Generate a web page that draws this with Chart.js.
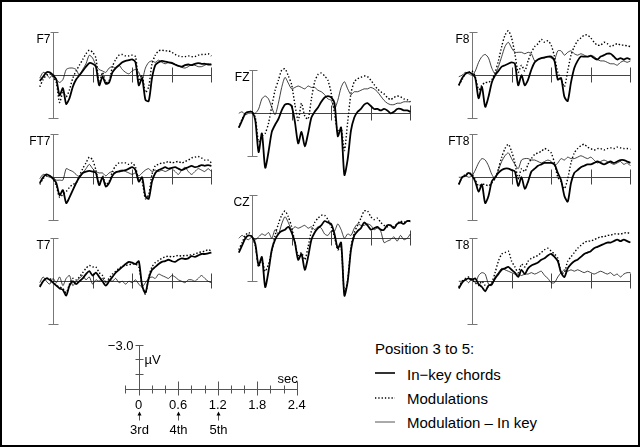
<!DOCTYPE html>
<html>
<head>
<meta charset="utf-8">
<script src="https://cdn.jsdelivr.net/npm/chart.js@4.4.1/dist/chart.umd.min.js"></script>
<style>
  html, body { margin: 0; padding: 0; background: #fff; }
  #fig { position: relative; width: 640px; height: 447px; overflow: hidden;
         font-family: "Liberation Sans", Arial, Helvetica, sans-serif; color: #000; }
  #frame { position: absolute; left: 0; top: 0; width: 636px; height: 443px;
           border: 2px solid #000; }
  canvas { position: absolute; }
  .txt { position: absolute; white-space: nowrap; font-size: 15px; line-height: 17px; }
  .sample { position: absolute; }
</style>
</head>
<body>
<div id="fig">
  <div id="frame"></div>
  <div class="txt" style="left:375px;top:340px">Position 3 to 5:</div>
  <svg class="sample" style="left:373px;top:366px" width="26" height="60">
    <line x1="2" y1="7" x2="22" y2="7" stroke="#000" stroke-width="1.6"/>
    <line x1="2" y1="32" x2="22" y2="32" stroke="#000" stroke-width="1.3" stroke-dasharray="1.3 2"/>
    <line x1="2" y1="56" x2="22" y2="56" stroke="#555" stroke-width="1"/>
  </svg>
  <div class="txt" id="leg0" style="left:407px;top:366px"></div>
  <div class="txt" id="leg1" style="left:407px;top:390px"></div>
  <div class="txt" id="leg2" style="left:407px;top:414px"></div>
</div>
<script>
// time in seconds (0 = onset of 3rd chord), amplitudes in microvolts (negative plotted up)
const times = [
  -0.2, -0.15, -0.1, -0.05, 0, 0.05, 0.1, 0.15, 0.2, 0.25,
  0.3, 0.35, 0.4, 0.45, 0.5, 0.55, 0.6, 0.65, 0.7, 0.75,
  0.8, 0.85, 0.9, 0.95, 1.0, 1.05, 1.1, 1.15, 1.2, 1.25,
  1.3, 1.35, 1.4, 1.45, 1.5, 1.55, 1.6, 1.65, 1.7, 1.75,
  1.8, 1.85, 1.9, 1.95, 2.0, 2.05, 2.1, 2.15, 2.2, 2.25,
  2.3, 2.35, 2.4
];

const f7InKey = [
  0.4, 0.1, -0.2, -0.2, 0.0, 0.3, 1.4, 0.9, 2.0, 1.6,
  0.8, 0.3, 0.0, -0.3, -0.6, -0.85, -0.8, -0.6, 0.7, 0.1,
  0.6, 0.5, -0.2, -0.5, -0.7, -0.9, -1.0, -1.05, -1.1, -0.9,
  0.7, 0.2, 1.7, 1.8, 0.2, -0.7, -0.9, -1.0, -0.95, -0.9,
  -0.85, -0.75, -0.65, -0.6, -0.7, -0.75, -0.7, -0.8, -0.85, -0.8,
  -0.8, -0.75, -0.75
];
const f7Mod = [
  0.8, 0.3, 0.0, -0.1, 0.1, 0.5, 1.9, 1.2, 1.5, 1.0,
  0.2, -0.3, -0.7, -1.1, -1.5, -1.75, -1.6, -1.2, 0.6, -0.2,
  0.5, 0.4, -0.6, -1.1, -1.4, -1.45, -1.35, -1.35, -1.4, -1.3,
  0.4, 0.0, 1.2, 0.8, -0.8, -1.4, -1.7, -1.75, -1.7, -1.7,
  -1.6, -1.45, -1.35, -1.3, -1.3, -1.35, -1.3, -1.3, -1.4, -1.45,
  -1.45, -1.5, -1.35
];
const f7Diff = [
  0.2, -0.2, -0.1, 0.2, -0.1, 0.3, 0.5, 0.3, -0.4, -0.5,
  -0.5, -0.4, 0.0, -0.4, -0.8, -1.4, -1.2, -0.7, -0.4, -0.3,
  -0.2, -0.5, -0.6, -0.5, -0.7, -0.4, -0.2, -0.1, -0.3, -0.4,
  -0.2, 0.3, -0.5, -0.9, -1.0, -0.9, -1.05, -0.9, -0.8, -0.9,
  -0.9, -0.75, -0.65, -0.55, -0.5, -0.6, -0.75, -0.7, -0.6, -0.6,
  -0.7, -0.8, -0.75
];

const ft7InKey = [
  0.4, 0.0, -0.2, -0.1, 0.1, 0.4, 1.25, 0.9, 1.8, 1.4,
  0.9, 0.4, 0.0, -0.3, -0.4, -0.45, -0.4, -0.3, 0.55, 0.0,
  0.65, 0.4, -0.1, -0.35, -0.4, -0.45, -0.5, -0.6, -0.7, -0.5,
  0.3, 0.0, 1.3, 1.5, 0.3, -0.3, -0.5, -0.6, -0.7, -0.6,
  -0.65, -0.7, -0.6, -0.5, -0.6, -0.7, -0.8, -0.7, -0.75, -0.85,
  -0.8, -0.85, -0.8
];
const ft7Mod = [
  0.5, 0.1, -0.1, -0.1, 0.1, 0.6, 1.4, 1.2, 1.0, 0.7,
  0.5, 0.4, -0.1, -0.6, -1.0, -1.4, -1.2, -0.5, 0.5, -0.1,
  0.5, 0.3, -0.4, -0.8, -1.0, -1.0, -1.0, -0.9, -1.0, -0.7,
  0.2, 0.3, 1.5, 1.2, -0.2, -0.8, -0.9, -1.0, -1.0, -1.1,
  -1.0, -1.05, -1.1, -1.0, -1.1, -1.2, -1.35, -1.4, -1.45, -1.35,
  -1.2, -1.2, -1.0
];
const ft7Diff = [
  0.1, -0.2, -0.1, 0.0, 0.0, 0.2, 0.2, 0.2, -0.6, -0.5,
  -0.4, -0.2, 0.0, -0.3, -0.6, -0.9, -0.6, -0.4, -0.3, -0.3,
  -0.1, -0.3, -0.4, -0.3, -0.45, -0.5, -0.4, -0.3, -0.2, -0.3,
  -0.1, -0.3, -0.5, -0.6, -0.4, -0.5, -0.4, -0.5, -0.4, -0.5,
  -0.6, -0.4, -0.2, -0.5, -0.7, -0.4, -0.2, -0.4, -0.6, -0.5,
  -0.4, -0.6, -0.4
];

const t7InKey = [
  0.4, 0.0, -0.2, -0.1, 0.1, 0.3, 0.5, 0.6, 1.0, 0.3,
  0.0, 0.2, 0.0, -0.2, -0.5, -0.7, -0.4, -0.6, -0.3, 0.0,
  0.3, 0.0, -0.3, -0.6, -0.8, -1.0, -1.2, -1.35, -1.3, -1.2,
  -1.4, 0.3, 0.8, -0.2, -0.8, -1.0, -1.2, -1.35, -1.4, -1.5,
  -1.4, -1.35, -1.5, -1.6, -1.55, -1.6, -1.75, -1.7, -1.8, -1.9,
  -1.9, -1.95, -2.0
];
const t7Mod = [
  0.3, 0.0, -0.2, -0.2, 0.0, 0.3, 0.4, 0.5, 0.8, 0.2,
  -0.2, -0.1, -0.3, -0.6, -0.9, -1.1, -1.0, -1.0, -0.6, -0.4,
  0.0, -0.2, -0.5, -0.7, -0.9, -1.05, -1.1, -1.15, -1.2, -1.2,
  -1.0, 0.3, 0.9, -0.3, -1.0, -1.3, -1.45, -1.6, -1.7, -1.75,
  -1.7, -1.75, -1.8, -1.75, -1.8, -1.8, -1.85, -1.9, -2.0, -2.05,
  -2.1, -2.2, -2.1
];
const t7Diff = [
  0.1, -0.3, 0.0, 0.2, -0.2, 0.1, -0.3, 0.3, -0.2, -0.4,
  0.3, 0.0, -0.2, -0.4, -0.1, -0.3, 0.2, -0.1, 0.0, -0.2,
  0.1, -0.1, 0.0, -0.2, 0.1, 0.0, 0.2, 0.0, 0.1, -0.1,
  0.2, 0.4, 0.1, -0.2, -0.3, -0.2, -0.5, -0.4, -0.3, -0.2,
  -0.4, -0.3, -0.1, 0.0, 0.1, -0.1, -0.1, 0.0, -0.2, -0.4,
  -0.2, 0.0, 0.1
];

const fzInKey = [
  1.0, 0.5, 0.0, -0.1, -0.1, 0.5, 2.7, 1.4, 3.8, 2.7,
  1.3, 0.8, 0.4, -0.2, -0.6, -0.65, -0.5, 0.6, 2.1, 1.3,
  2.3, 1.4, 0.3, -0.1, -0.4, -0.8, -1.1, -1.2, -1.1, -0.7,
  1.6, 1.0, 4.3, 3.2, 1.2, 0.3, -0.1, -0.3, -0.6, -0.7,
  -0.5, -0.3, -0.3, -0.2, -0.3, -0.2, 0.0, -0.1, -0.3, -0.3,
  -0.2, -0.2, -0.1
];
const fzMod = [
  1.0, 0.4, 0.0, -0.1, -0.1, 0.3, 2.0, 1.6, 1.4, 0.7,
  -0.5, -1.6, -2.3, -3.0, -3.1, -2.6, -2.0, -0.6, 0.5, -0.7,
  0.2, 0.4, -1.0, -2.2, -2.7, -2.8, -2.6, -2.3, -1.4, 0.0,
  1.3, 1.0, 2.6, 0.6, -1.4, -2.2, -2.4, -2.5, -2.6, -2.55,
  -2.3, -2.0, -1.7, -1.5, -1.35, -1.1, -0.95, -1.1, -1.2, -1.15,
  -1.0, -0.95, -0.8
];
const fzDiff = [
  0.0, -0.1, 0.1, 0.0, 0.0, 0.0, -0.3, -1.0, -1.2, -1.0,
  -0.4, 0.1, -0.7, -1.8, -2.5, -2.1, -1.7, -1.8, -1.9, -1.8,
  -1.7, -1.9, -1.8, -1.8, -1.6, -1.5, -1.3, -1.0, -0.9, -0.3,
  -0.9, -1.8, -2.2, -1.7, -1.3, -1.5, -1.5, -1.6, -1.7, -1.7,
  -1.8, -1.7, -1.5, -1.2, -0.9, -0.7, -0.6, -0.6, -0.7, -0.7,
  -0.8, -0.8, -0.8
];

const czInKey = [
  1.0, 0.5, 0.0, -0.2, -0.1, 0.4, 1.9, 1.3, 3.4, 2.3,
  0.8, 0.1, -0.3, -0.5, -0.6, -0.8, -0.4, 0.3, 1.5, 1.1,
  2.2, 1.3, 0.1, -0.4, -0.7, -0.9, -1.2, -1.1, -1.0, -0.3,
  0.7, 0.3, 4.0, 3.0, 0.8, -0.2, -0.5, -0.7, -1.1, -0.9,
  -0.6, -0.7, -0.8, -0.6, -0.6, -0.9, -0.9, -0.7, -1.0, -1.1,
  -1.0, -1.2, -1.2
];
const czMod = [
  0.8, 0.3, -0.2, -0.4, -0.1, 0.5, 2.0, 1.5, 2.3, 1.8,
  0.9, -0.2, -1.0, -1.6, -1.9, -1.5, -0.8, 0.3, 1.2, 1.0,
  1.5, 0.6, -0.5, -1.1, -1.4, -1.6, -1.6, -1.3, -0.8, -0.1,
  0.8, 0.6, 3.8, 2.9, 0.6, -0.4, -0.9, -1.4, -1.9, -1.9,
  -1.5, -1.3, -1.4, -1.1, -0.9, -0.8, -0.9, -0.8, -1.0, -1.2,
  -1.1, -1.2, -1.1
];
const czDiff = [
  0.0, -0.2, 0.0, 0.1, -0.1, 0.1, -0.1, -0.3, -0.2, -0.4,
  0.0, -0.6, -0.3, -1.0, -1.5, -1.1, -0.6, -0.8, -0.7, -0.8,
  -0.9, -0.7, -0.8, -0.6, -0.8, -0.7, -0.3, -0.2, -0.5, -0.5,
  -1.0, -0.6, 0.0, -0.3, -0.2, -0.7, -1.0, -0.9, -0.9, -1.0,
  -0.9, -0.6, -0.7, -0.5, 0.3, 0.2, 0.1, -0.1, 0.2, -0.2,
  0.1, 0.0, -0.3
];

const f8InKey = [
  0.7, 0.2, -0.1, -0.2, -0.1, 0.2, 1.6, 0.8, 2.2, 1.5,
  0.5, 0.0, -0.3, -0.6, -0.7, -0.8, -0.9, -0.8, 0.7, 0.0,
  0.7, 0.3, -0.4, -0.9, -1.1, -1.2, -1.25, -1.3, -1.3, -1.0,
  0.3, 0.2, 1.5, 1.8, 0.5, -0.5, -1.0, -1.3, -1.3, -1.3,
  -1.35, -1.2, -1.1, -1.3, -1.4, -1.5, -1.5, -1.3, -1.1, -1.2,
  -1.1, -1.2, -1.1
];
const f8Mod = [
  0.7, 0.3, -0.1, -0.2, -0.3, 0.1, 1.0, 0.7, 0.5, 0.5,
  0.3, -0.2, -1.0, -2.0, -2.8, -3.1, -2.6, -1.5, -0.2, -0.7,
  -0.3, -1.0, -1.6, -2.0, -2.2, -2.5, -2.3, -2.4, -2.1, -1.3,
  -0.2, 0.3, 0.8, -0.3, -1.4, -2.0, -2.4, -2.6, -2.8, -2.8,
  -2.6, -2.3, -2.1, -2.1, -2.3, -2.2, -2.0, -2.1, -2.2, -2.1,
  -2.1, -2.05, -2.0
];
const f8Diff = [
  0.1, 0.0, -0.2, -0.1, 0.0, -0.3, -0.9, -1.3, -1.45, -1.2,
  -0.5, -0.1, -0.6, -1.3, -2.0, -2.3, -1.9, -1.6, -1.6, -1.6,
  -1.5, -1.6, -1.5, -1.0, -1.1, -1.2, -1.2, -1.3, -1.2, -1.1,
  -1.7, -1.7, -1.4, -1.6, -1.7, -1.5, -1.4, -1.5, -1.4, -1.3,
  -1.4, -1.3, -1.1, -1.0, -1.0, -0.9, -0.8, -0.8, -0.7, -0.9,
  -1.0, -0.9, -1.0
];

const ft8InKey = [
  0.5, 0.0, -0.1, -0.3, -0.1, 0.3, 1.0, 0.5, 1.8, 1.3,
  0.3, 0.0, -0.3, -0.5, -0.6, -0.6, -0.5, -0.4, 0.6, 0.0,
  0.8, 0.3, -0.4, -0.6, -0.8, -0.9, -1.0, -1.0, -1.0, -0.9,
  -0.3, 0.2, 1.3, 1.7, 0.4, -0.3, -0.5, -0.7, -0.8, -0.9,
  -0.9, -1.0, -1.1, -1.0, -0.9, -1.0, -1.1, -1.0, -1.1, -1.2,
  -1.2, -1.1, -1.0
];
const ft8Mod = [
  0.5, 0.0, -0.2, -0.3, -0.2, 0.2, 0.6, 0.5, 0.5, 0.6,
  0.4, 0.1, -0.6, -1.4, -2.0, -2.3, -1.8, -1.0, 0.1, -0.6,
  -0.4, -0.9, -1.3, -1.6, -1.7, -1.8, -2.0, -1.9, -1.7, -1.0,
  0.0, 0.3, 0.8, 0.1, -1.0, -1.7, -2.0, -2.2, -2.3, -2.1,
  -2.0, -1.9, -2.0, -2.0, -1.9, -2.0, -2.05, -2.0, -2.1, -2.05,
  -2.0, -2.0, -1.95
];
const ft8Diff = [
  0.0, 0.0, -0.1, 0.0, -0.1, -0.5, -1.0, -1.3, -1.2, -0.8,
  -0.2, 0.1, -0.5, -1.1, -1.5, -1.7, -1.3, -0.9, -0.6, -1.2,
  -1.3, -1.3, -1.2, -1.2, -1.1, -1.0, -1.1, -1.2, -1.1, -0.8,
  -1.0, -1.3, -1.2, -1.4, -1.3, -1.3, -1.4, -1.5, -1.4, -1.3,
  -1.4, -1.2, -1.0, -1.1, -1.2, -1.1, -1.0, -0.9, -1.0, -1.1,
  -0.9, -1.0, -0.8
];

const t8InKey = [
  0.5, 0.1, -0.1, -0.2, -0.1, -0.2, 0.2, 0.4, 0.7, 0.3,
  0.2, -0.2, -0.5, -0.8, -0.9, -1.0, -0.8, -0.6, -0.3, -0.8,
  -0.5, -0.9, -1.1, -1.2, -1.3, -1.5, -1.6, -1.8, -1.9, -1.7,
  -1.4, -0.6, -0.3, -0.9, -1.2, -1.4, -1.5, -1.7, -1.9, -2.0,
  -2.1, -2.3, -2.4, -2.5, -2.6, -2.7, -2.7, -2.8, -2.9, -2.8,
  -2.9, -2.8, -2.7
];
const t8Mod = [
  0.4, 0.0, -0.2, -0.3, -0.1, 0.1, 0.3, 0.0, 0.3, 0.4,
  0.1, -0.6, -1.4, -1.9, -2.0, -2.1, -1.4, -1.0, -0.6, -1.2,
  -1.0, -1.4, -1.6, -1.7, -1.8, -2.0, -2.2, -2.3, -2.1, -1.9,
  -1.6, -0.6, -0.6, -1.4, -1.7, -2.0, -2.3, -2.5, -2.7, -2.8,
  -2.8, -2.9, -3.0, -3.1, -3.1, -3.2, -3.2, -3.3, -3.3, -3.3,
  -3.35, -3.4, -3.3
];
const t8Diff = [
  0.0, 0.0, -0.1, 0.1, -0.2, 0.1, -0.4, -0.6, -0.5, 0.2,
  0.3, -0.3, -0.6, -0.9, -0.8, -0.7, -0.6, -0.5, -0.5, -0.4,
  -0.5, -0.5, -0.6, -0.5, -0.6, -0.7, -0.4, -0.2, 0.1, 0.1,
  -0.3, -0.6, -0.8, -0.7, -0.8, -0.7, -0.8, -0.7, -0.6, -0.7,
  -0.6, -0.5, -0.6, -0.7, -0.6, -0.5, -0.6, -0.4, -0.5, -0.3,
  -0.5, -0.6, -0.6
];

const panelTicks = [0.6, 1.2, 1.8, 2.4];
const scaleMajor = [0, 0.6, 1.2, 1.8, 2.4];
const scaleMinor = [-0.2, 0.2, 0.4, 0.8, 1.0, 1.4, 1.6, 2.0, 2.2];
const scaleTickLabels = ["0", "0.6", "1.2", "1.8", "2.4"];
const chordTimes = [0, 0.6, 1.2];
const chordLabels = ["3rd", "4th", "5th"];
const legendLabels = ["In\u2212key chords", "Modulations", "Modulation \u2013 In key"];

legendLabels.forEach((txt, i) => {
  document.getElementById("leg" + i).textContent = txt;
});

const FONT = '"Liberation Sans", Arial, Helvetica, sans-serif';
const fig = document.getElementById("fig");

// axis x (t = 0) and zero line y for each electrode
const panels = [
  { name: "F7", ax: 53, zy: 75, inKey: f7InKey, mod: f7Mod, diff: f7Diff },
  { name: "FT7", ax: 53, zy: 177, inKey: ft7InKey, mod: ft7Mod, diff: ft7Diff },
  { name: "T7", ax: 53, zy: 281, inKey: t7InKey, mod: t7Mod, diff: t7Diff },
  { name: "FZ", ax: 252, zy: 113, inKey: fzInKey, mod: fzMod, diff: fzDiff },
  { name: "CZ", ax: 252, zy: 238, inKey: czInKey, mod: czMod, diff: czDiff },
  { name: "F8", ax: 472, zy: 75, inKey: f8InKey, mod: f8Mod, diff: f8Diff },
  { name: "FT8", ax: 472, zy: 177, inKey: ft8InKey, mod: ft8Mod, diff: ft8Diff },
  { name: "T8", ax: 472, zy: 281, inKey: t8InKey, mod: t8Mod, diff: t8Diff },
];

const crisp = (v) => Math.round(v) + 0.5;

const erpAxes = {
  id: "erpAxes",
  beforeDatasetsDraw(chart, args, opts) {
    const { ctx, scales: { x, y } } = chart;
    const x0 = crisp(x.getPixelForValue(0));
    const y0 = crisp(y.getPixelForValue(0));
    const yTop = crisp(y.getPixelForValue(-3));
    const yBot = crisp(y.getPixelForValue(3));
    ctx.save();
    ctx.lineWidth = 1;
    ctx.strokeStyle = "#444";
    ctx.beginPath();
    ctx.moveTo(x0, y0);
    ctx.lineTo(crisp(x.getPixelForValue(2.4)), y0);
    panelTicks.forEach((t) => {
      const px = crisp(x.getPixelForValue(t));
      ctx.moveTo(px, y0 - 8);
      ctx.lineTo(px, y0 + 7);
    });
    ctx.stroke();
    ctx.strokeStyle = "#777";
    ctx.beginPath();
    ctx.moveTo(x0, yTop);
    ctx.lineTo(x0, yBot);
    ctx.moveTo(x0 - 3, yTop);
    ctx.lineTo(x0 + 5, yTop);
    ctx.moveTo(x0 - 5, yBot);
    ctx.lineTo(x0 + 5, yBot);
    ctx.stroke();
    ctx.fillStyle = "#000";
    ctx.font = "12px " + FONT;
    ctx.textAlign = "right";
    ctx.textBaseline = "top";
    ctx.fillText(opts.name, x0 - 3, yTop + 1);
    ctx.restore();
  },
};

function series(vals) {
  return times.map((t, i) => ({ x: t, y: vals[i] }));
}

panels.forEach((p) => {
  const canvas = document.createElement("canvas");
  canvas.width = 198;
  canvas.height = 132;
  canvas.style.left = (p.ax - 33) + "px";
  canvas.style.top = (p.zy - 60) + "px";
  fig.appendChild(canvas);
  new Chart(canvas, {
    type: "line",
    data: {
      datasets: [
        { label: legendLabels[0], data: series(p.inKey), borderColor: "#000", borderWidth: 1.8 },
        { label: legendLabels[1], data: series(p.mod), borderColor: "#000", borderWidth: 1.4, borderDash: [1.4, 2] },
        { label: legendLabels[2], data: series(p.diff), borderColor: "#111", borderWidth: 0.8 },
      ],
    },
    options: {
      responsive: false,
      animation: false,
      devicePixelRatio: 1,
      events: [],
      layout: { padding: 0 },
      elements: { point: { radius: 0 }, line: { tension: 0.25, borderCapStyle: "butt" } },
      plugins: { legend: { display: false }, tooltip: { enabled: false }, erpAxes: { name: p.name } },
      scales: {
        x: { type: "linear", min: -0.5, max: 2.5, display: false },
        y: { type: "linear", min: -4.2, max: 5, reverse: true, display: false },
      },
    },
    plugins: [erpAxes],
  });
});

// calibration bar: -3 microvolts and time in seconds
const scaleBar = {
  id: "scaleBar",
  afterDraw(chart) {
    const { ctx, scales: { x, y } } = chart;
    const x0 = crisp(x.getPixelForValue(0));
    const y0 = crisp(y.getPixelForValue(0));
    ctx.save();
    ctx.lineWidth = 1;
    ctx.strokeStyle = "#555";
    ctx.beginPath();
    ctx.moveTo(crisp(x.getPixelForValue(-0.2)), y0);
    ctx.lineTo(crisp(x.getPixelForValue(2.4)), y0);
    scaleMajor.forEach((t) => {
      const px = crisp(x.getPixelForValue(t));
      ctx.moveTo(px, y0 - 8);
      ctx.lineTo(px, y0 + 6);
    });
    scaleMinor.forEach((t) => {
      const px = crisp(x.getPixelForValue(t));
      ctx.moveTo(px, y0 - 4);
      ctx.lineTo(px, y0 + 4);
    });
    const yTop = crisp(y.getPixelForValue(-3));
    ctx.moveTo(x0, yTop);
    ctx.lineTo(x0, y0);
    [-3, -2, -1].forEach((v) => {
      const py = crisp(y.getPixelForValue(v));
      ctx.moveTo(x0 - 4, py);
      ctx.lineTo(x0 + 4, py);
    });
    ctx.stroke();

    ctx.fillStyle = "#000";
    ctx.font = "13px " + FONT;
    ctx.textBaseline = "middle";
    ctx.textAlign = "right";
    ctx.fillText("\u22123.0", x0 - 6, yTop + 1);
    ctx.textAlign = "left";
    ctx.fillText("\u00b5V", x0 + 5, y.getPixelForValue(-2) + 1);
    ctx.textAlign = "right";
    ctx.textBaseline = "alphabetic";
    ctx.fillText("sec", x.getPixelForValue(2.4) + 1, y0 - 7);
    ctx.textAlign = "center";
    ctx.textBaseline = "top";
    scaleMajor.forEach((t, i) => {
      ctx.fillText(scaleTickLabels[i], x.getPixelForValue(t), y0 + 9);
    });
    chordTimes.forEach((t, i) => {
      const px = crisp(x.getPixelForValue(t));
      ctx.beginPath();
      ctx.moveTo(px, y0 + 31);
      ctx.lineTo(px, y0 + 25);
      ctx.stroke();
      ctx.beginPath();
      ctx.moveTo(px - 2, y0 + 26);
      ctx.lineTo(px, y0 + 22);
      ctx.lineTo(px + 2, y0 + 26);
      ctx.closePath();
      ctx.fill();
      ctx.fillText(chordLabels[i], px, y0 + 34);
    });
    ctx.restore();
  },
};

const scaleCanvas = document.createElement("canvas");
scaleCanvas.width = 211;
scaleCanvas.height = 105;
scaleCanvas.style.left = "99px";
scaleCanvas.style.top = "336px";
fig.appendChild(scaleCanvas);
new Chart(scaleCanvas, {
  type: "line",
  data: { datasets: [] },
  options: {
    responsive: false,
    animation: false,
    devicePixelRatio: 1,
    events: [],
    layout: { padding: 0 },
    plugins: { legend: { display: false }, tooltip: { enabled: false } },
    scales: {
      x: { type: "linear", min: -0.6, max: 2.6, display: false },
      y: { type: "linear", min: -3.6, max: 3.6, reverse: true, display: false },
    },
  },
  plugins: [scaleBar],
});
</script>
</body>
</html>
